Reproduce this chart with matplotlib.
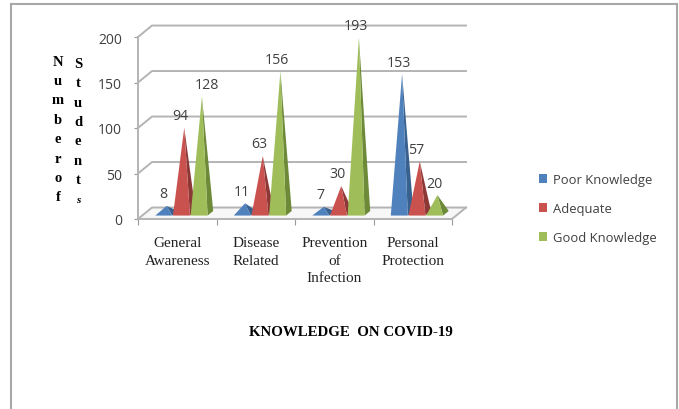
import matplotlib
matplotlib.use("Agg")
import matplotlib.pyplot as plt
from matplotlib.patches import Polygon, Patch
from matplotlib.lines import Line2D

# ---- data ----
categories = ["General\nAwareness", "Disease\nRelated", "Prevention\nof\nInfection", "Personal\nProtection"]
series_names = ["Poor Knowledge", "Adequate", "Good Knowledge"]
poor = [8, 11, 7, 153]
adequate = [94, 63, 30, 57]
good = [128, 156, 193, 20]
y_ticks = [0, 50, 100, 150, 200]
y_title_1 = "N\nu\nm\nb\ne\nr\no\nf"
y_title_2 = "S\nt\nu\nd\ne\nn\nt"
title_text = "KNOWLEDGE  ON COVID-19"

# ---- style ----
W, H = 679, 410
face_colors = ["#4F81BD", "#C9524F", "#9FBD59"]
side_colors = ["#39618F", "#8C3836", "#6C8A38"]
grid_col = "#B4B4B4"
txt_col = "#404040"
FS = "Liberation Serif"
SS = "Open Sans"

fig = plt.figure(figsize=(W / 100, H / 100), dpi=100)
ax = fig.add_axes([138 / W, (H - 220) / H, 314 / W, 182 / H])
ax.set_xlim(0, 4)
ax.set_ylim(0, 200)
ax.patch.set_alpha(0)

def fx(x): return x / W
def fy(y): return 1 - y / H

# outer frame
for xs, ys in [((11, 11), (5, 410)), ((11, 677), (5, 5)), ((677, 677), (5, 410))]:
    fig.add_artist(Line2D([fx(v) for v in xs], [fy(v) for v in ys], color="#A8A8A8", lw=1.5))

# projection depth (in data units)
DX, DY = 14 / 78.5, 12.6
HALF_W = 8.5 / 78.5
HALF_D = 0.2

# walls / floor
for v in y_ticks:
    ax.plot([0, DX, 4 + DX], [v, v + DY, v + DY], color=grid_col, lw=1.4, clip_on=False, zorder=1)
ax.plot([4, 4 + DX], [0, DY], color=grid_col, lw=1.4, clip_on=False, zorder=1)
ax.fill([0, DX, 4 + DX, 4], [0, DY, DY, 0], color="#F7F7F7", zorder=0.5, clip_on=False)

# pyramids
offsets = [0.275, 0.5, 0.725]
z = 2
for i in range(len(categories)):
    for s, vals in enumerate([poor, adequate, good]):
        c = i + offsets[s]
        v = vals[i]
        apex = (c + 0.5 * DX, v + 0.5 * DY)
        d0, d1 = 0.5 - HALF_D, 0.5 + HALF_D
        fl = (c - HALF_W + d0 * DX, d0 * DY)
        fr = (c + HALF_W + d0 * DX, d0 * DY)
        br = (c + HALF_W + d1 * DX, d1 * DY)
        ax.add_patch(Polygon([fr, br, apex], closed=True, fc=side_colors[s], ec="none", zorder=z, clip_on=False))
        ax.add_patch(Polygon([fl, fr, apex], closed=True, fc=face_colors[s], ec="none", zorder=z + 0.1, clip_on=False))
        z += 1
        dx_lbl = 5 if v == 128 else -3.5
        ax.annotate(str(v), xy=apex, xytext=(dx_lbl * 0.72, 12 * 0.72), textcoords="offset points",
                    ha="center", va="center", fontsize=10.2, family=SS, color=txt_col, zorder=50,
                    annotation_clip=False)

# axes decoration
for sp in ("top", "right"):
    ax.spines[sp].set_visible(False)
for sp in ("left", "bottom"):
    ax.spines[sp].set_color(grid_col)
    ax.spines[sp].set_linewidth(1.4)
ax.set_yticks(y_ticks)
ax.set_yticklabels([str(t) for t in y_ticks], fontsize=10, family=SS, color=txt_col)
ax.tick_params(axis="y", length=3, color="#999999", pad=8.5)
ax.set_xticks(range(5))
ax.set_xticklabels([""] * 5)
ax.tick_params(axis="x", which="major", length=4, color="#999999")
ax.set_xticks([i + 0.5 for i in range(4)], minor=True)
ax.set_xticklabels(categories, minor=True, fontsize=11, family=FS, color="#222222", linespacing=1.42)
ax.tick_params(axis="x", which="minor", length=0, pad=12.5)

# stacked axis title
fig.text(fx(58), fy(130), y_title_1, ha="center", va="center", fontsize=10.5,
         family=FS, weight="bold", linespacing=1.64, color="black")
fig.text(fx(78), fy(122.5), y_title_2, ha="center", va="center", fontsize=10.5,
         family=FS, weight="bold", linespacing=1.64, color="black")
fig.text(fx(78), fy(201), "s", ha="center", va="center", fontsize=8,
         family=FS, weight="bold", style="italic", color="black")

# title
fig.text(fx(351), fy(333), title_text, ha="center", va="center", fontsize=10.7,
         family=FS, weight="bold", color="black")

# legend
handles = [Patch(fc=c, ec="none") for c in face_colors]
leg = fig.legend(handles, series_names, loc="center left", bbox_to_anchor=(fx(538.5), fy(209.5)),
                 frameon=False, handlelength=0.68, handleheight=0.68, handletextpad=0.45,
                 labelspacing=1.22, borderpad=0, borderaxespad=0, labelcolor=txt_col,
                 prop={"family": SS, "size": 9.4})

fig.savefig("out.png", dpi=100)
